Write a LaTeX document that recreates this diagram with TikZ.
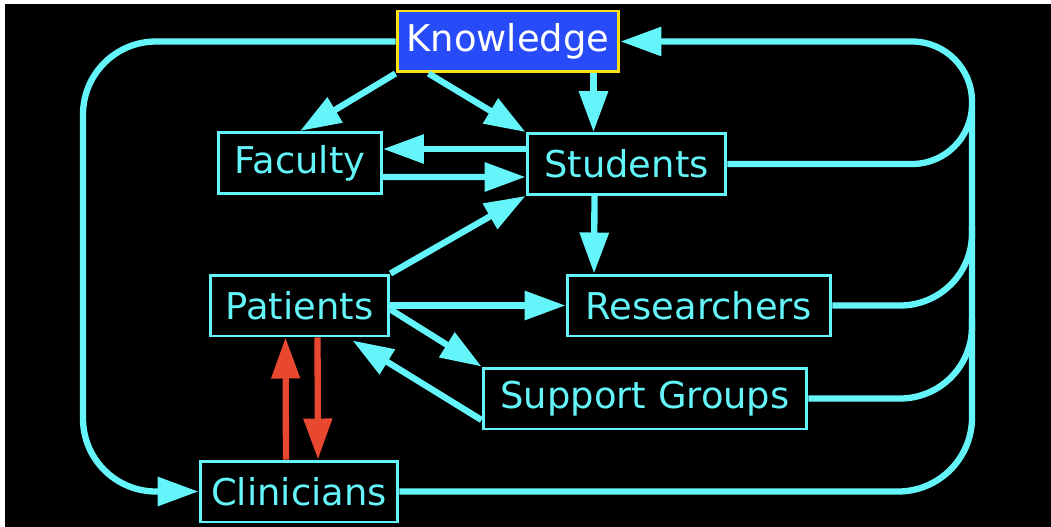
\documentclass[tikz,border=0pt]{standalone}
\usepackage{fontspec}
\setmainfont{DejaVu Sans}
\usetikzlibrary{arrows.meta}
\definecolor{aqua}{RGB}{100,245,250}
\definecolor{kblue}{RGB}{40,75,250}
\definecolor{kyellow}{RGB}{250,225,20}
\definecolor{pred}{RGB}{232,72,48}

\begin{document}
\begin{tikzpicture}[x=0.02cm, y=-0.02cm,
        box/.style={draw=aqua, line width=1.7pt, text=aqua, minimum height=1.22cm, inner sep=2pt, font=\fontsize{21}{25}\selectfont},
        link/.style={draw=aqua, line width=3.6pt},
        arr/.style={link, -{Triangle[length=0.82cm,width=0.56cm]}},
        redarr/.style={draw=pred, line width=3.6pt, -{Triangle[length=0.82cm,width=0.55cm]}}]
        \useasboundingbox (0,0) rectangle (1051,527);
        \fill [fill=white](0,0) rectangle (1051,527);
        \fill [fill=black](5,4) rectangle (1051,527);

        \node[box, draw=kyellow, fill=kblue, text=white, minimum width=4.44cm] (know) at (508,41.5) {Knowledge};
        \node[box, minimum width=3.26cm] (fac) at (300,163) {Faculty};
        \node[box, minimum width=3.98cm] (stu) at (626.5,164) {Students};
        \node[box, minimum width=3.58cm] (pat) at (299.5,305.5) {Patients};
        \node[box, minimum width=5.28cm] (res) at (699,305.5) {Researchers};
        \node[box, minimum width=6.48cm] (sup) at (645,398.5) {Support Groups};
        \node[box, minimum width=3.96cm] (clin) at (299,491.5) {Clinicians};

        \coordinate (lx) at (83,0);
        \coordinate (rx) at (972,0);
        \coordinate (rtop) at (972,108);
        \coordinate (kv) at ([xshift=-0.66cm]stu.north);

        \draw[arr] (know.south west) -- (fac.north);
        \draw[arr] ([xshift=0.66cm]know.south west) -- (stu.north west);
        \draw[arr] (kv |- know.south) -- (kv);
        \draw[arr] ([yshift=0.3cm]stu.west) -- ([yshift=0.28cm]fac.east);
        \draw[arr] ([yshift=-0.28cm]fac.east) -- ([yshift=-0.26cm]stu.west);
        \draw[arr] (pat.north east) -- (stu.south west);
        \draw[arr] ([xshift=-0.64cm]stu.south) -- ([xshift=-2.1cm]res.north);
        \draw[arr] (pat.east) -- (res.west);
        \draw[arr] ([yshift=-0.08cm]pat.east) -- (sup.north west);
        \draw[arr] ([yshift=-0.43cm]sup.west) -- ([xshift=1.06cm,yshift=-0.06cm]pat.south);

        \draw[redarr] ([xshift=-0.26cm]clin.north) -- ([xshift=-0.28cm]pat.south);
        \draw[redarr] ([xshift=0.36cm]pat.south) -- ([xshift=0.38cm]clin.north);

        % outer loops
        \draw[arr, rounded corners=1.46cm] (know.west) -- (know.west -| lx) -- (clin.west -| lx) -- (clin.west);
        \draw[link, rounded corners=1.48cm] (clin.east) -- (clin.east -| rx) -- (rtop);
        \draw[arr, rounded corners=1.2cm] (stu.east) -- (stu.east -| rx) -- (know.east -| rx) -- (know.east);
        \draw[link, rounded corners=1.44cm] (res.east) -- (res.east -| rx) -- ++(0,-80);
        \draw[link, rounded corners=1.44cm] (sup.east) -- (sup.east -| rx) -- ++(0,-80);
\end{tikzpicture}
\end{document}
